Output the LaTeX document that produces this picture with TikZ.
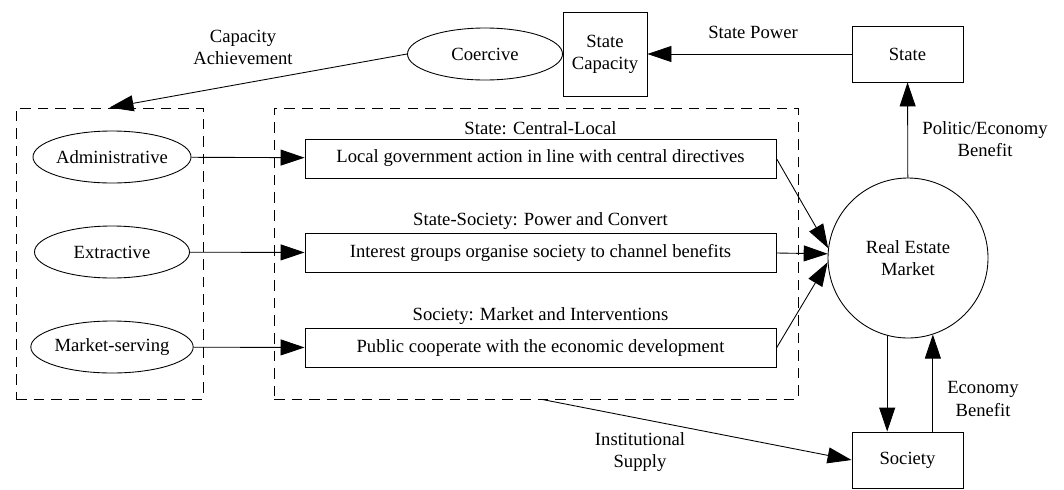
\documentclass[tikz,border=0pt]{standalone}
\usepackage{fontspec}
\setmainfont{Liberation Serif}
\usepackage{tikz}
\usetikzlibrary{arrows.meta,positioning,shapes.geometric}
\tikzset{
  box/.style={draw,rectangle,align=center,inner sep=2pt,line width=0.5pt},
  wide/.style={box,minimum width=9.42cm,minimum height=0.78cm},
  actor/.style={box,minimum width=2.22cm,minimum height=1.12cm},
  capy/.style={draw,ellipse,minimum width=3.1cm,minimum height=1.04cm,inner sep=0pt,line width=0.5pt},
  grp/.style={draw,dash pattern=on 6pt off 4pt,line width=0.5pt,minimum height=5.82cm},
  ar/.style={-{Triangle[length=4.8mm,width=3.2mm]},line width=0.5pt},
  lbl/.style={align=center,inner sep=1pt},
}

\begin{document}
\begin{tikzpicture}[every node/.style={font=\fontsize{10.6}{12.6}\selectfont}]
  \useasboundingbox (0,0) rectangle (21.28,-9.78);
  % top row
  \node[actor] (state) at (18.15,-1.08) {State};
  \node[box,minimum width=1.68cm,minimum height=1.68cm] (cap) at (12.10,-1.08) {State\\Capacity};
  \node[capy] (coer) at (9.70,-1.08) {Coercive};
  % dashed groups
  \node[grp,minimum width=3.74cm] (lft) at (2.19,-5.07) {};
  \node[grp,minimum width=10.48cm] (mid) at (10.72,-5.07) {};
  % capacities
  \node[capy] (adm) at (2.24,-3.14) {Administrative};
  \node[capy] (ext) at (2.24,-5.04) {Extractive};
  \node[capy] (mkt) at (2.24,-6.94) {Market-serving};
  % relations
  \node[wide] (act) at (10.81,-3.17) {Local government action in line with central directives};
  \node[wide] (grpb) at (10.81,-5.06) {Interest groups organise society to channel benefits};
  \node[wide] (pub) at (10.81,-6.96) {Public cooperate with the economic development};
  \node[lbl,above=1pt of act] (actt) {State: Central-Local};
  \node[lbl,above=1pt of grpb] (grpt) {State-Society: Power and Convert};
  \node[lbl,above=1pt of pub] (pubt) {Society: Market and Interventions};
  % market and society
  \node[circle,draw,line width=0.5pt,minimum size=3.2cm,align=center,inner sep=0pt] (rem) at (18.16,-5.16) {Real Estate\\Market};
  \node[actor] (soc) at (18.15,-9.20) {Society};

  \draw[ar] (state) -- (cap);
  \draw[ar] (coer.west) -- (lft.north);
  \draw[ar] (adm) -- (act);
  \draw[ar] (ext) -- (grpb);
  \draw[ar] (mkt) -- (pub);
  \draw[ar] (act.east) -- (rem.173);
  \draw[ar] (grpb.east) -- (rem.177);
  \draw[ar] (pub.east) -- (rem.183);
  \draw[ar] (rem) -- (state);
  \draw[ar] (rem.255) -- (rem.255 |- soc.north);
  \draw[ar] (rem.288 |- soc.north) -- (rem.288);
  \draw[ar] ([xshift=0.12cm]mid.south) -- (soc.west);

  % edge labels
  \node[lbl] (lpow) at (15.06,-0.64) {State Power};
  \node[lbl] (lach) at (4.86,-0.94) {Capacity\\Achievement};
  \node[lbl] (lpol) at (19.70,-2.78) {Politic/Economy\\Benefit};
  \node[lbl] (leco) at (19.66,-7.98) {Economy\\Benefit};
  \node[lbl] (lins) at (12.80,-9.04) {Institutional\\Supply};
\end{tikzpicture}
\end{document}
